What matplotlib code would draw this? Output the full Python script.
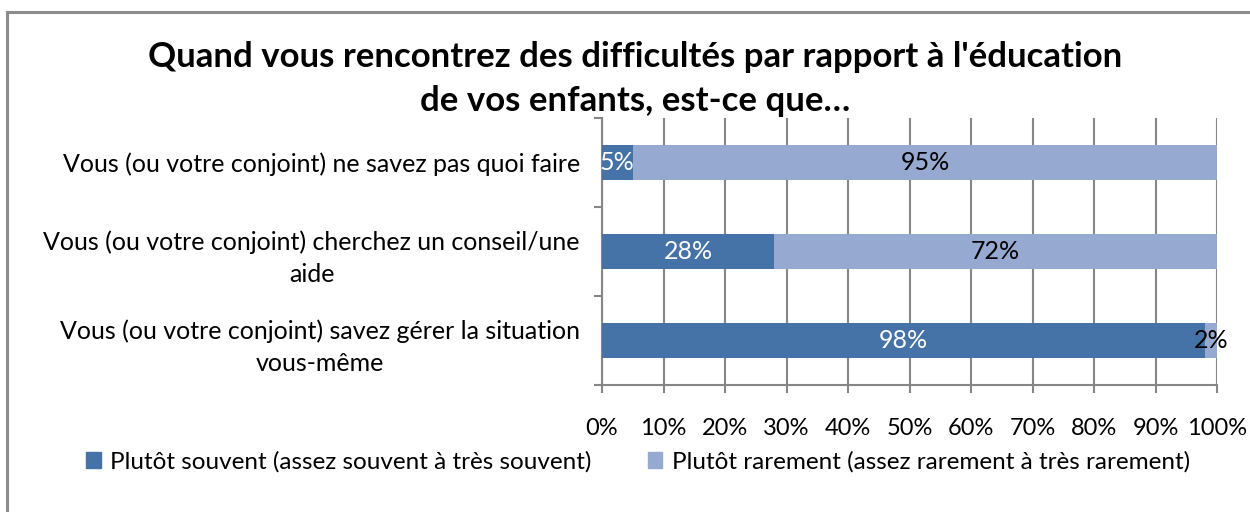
import matplotlib
matplotlib.use("Agg")
import matplotlib.pyplot as plt
from matplotlib.patches import Rectangle
from matplotlib.lines import Line2D

plt.rcParams['font.family'] = ['Lato', 'DejaVu Sans']

categories = [
    "Vous (ou votre conjoint) ne savez pas quoi faire",
    "Vous (ou votre conjoint) cherchez un conseil/une\naide",
    "Vous (ou votre conjoint) savez gérer la situation\nvous-même",
]
souvent = [5, 28, 98]
rarement = [95, 72, 2]
series_names = ["Plutôt souvent (assez souvent à très souvent)",
                "Plutôt rarement (assez rarement à très rarement)"]
title = "Quand vous rencontrez des difficultés par rapport à l'éducation\nde vos enfants, est-ce que…"
xticks = [0, 10, 20, 30, 40, 50, 60, 70, 80, 90, 100]

dark = "#4572A7"
light = "#95A9D1"
grid = "#868686"

fig = plt.figure(figsize=(12.5, 5.12), dpi=100)
# border (top & left visible)
fig.add_artist(Line2D([0.0056, 0.0056], [0, 1 - 11.5/512], color="#8c8c8c", lw=2.2, transform=fig.transFigure))
fig.add_artist(Line2D([0.0056, 1.01], [1 - 11.5/512, 1 - 11.5/512], color="#8c8c8c", lw=2.2, transform=fig.transFigure))

ax = fig.add_axes([602/1250, 1 - 385/512, (1217-602)/1250, (385-118)/512])
ypos = [2, 1, 0]
h = 0.40
ax.barh(ypos, souvent, height=h, color=dark, zorder=3)
ax.barh(ypos, rarement, left=souvent, height=h, color=light, zorder=3)

fs_lbl = 18
fs_tick = 17
for y, s, r in zip(ypos, souvent, rarement):
    ax.text(s/2, y, f"{s}%", ha="center", va="center", color="white", fontsize=fs_lbl, zorder=4)
    ax.text(s + r/2, y, f"{r}%", ha="center", va="center", color="black", fontsize=fs_lbl, zorder=4)

ax.set_xlim(0, 100)
ax.set_ylim(-0.5, 2.5)
ax.set_xticks(xticks)
ax.set_xticklabels([f"{t}%" for t in xticks], fontsize=fs_tick)
ax.set_yticks(ypos)
ax.set_yticklabels(categories, fontsize=fs_lbl, multialignment="center", linespacing=1.5)
ax.set_yticks([-0.5, 0.5, 1.5, 2.5], minor=True)
ax.tick_params(axis="y", which="major", length=0, pad=16)
ax.tick_params(axis="y", which="minor", length=6, width=1.5, color=grid, direction="out")
ax.tick_params(axis="x", length=6, width=1.5, color=grid, direction="out", pad=18)
ax.grid(axis="x", color=grid, lw=1.5, zorder=0)
for sp in ["top", "right"]:
    ax.spines[sp].set_visible(False)
for sp in ["left", "bottom"]:
    ax.spines[sp].set_color(grid)
    ax.spines[sp].set_linewidth(1.5)
ax.set_axisbelow(True)

fig.text(635/1250, 1 - 79/512, title, ha="center", va="center", fontsize=25, fontweight="bold", linespacing=1.45)

handles = [Rectangle((0, 0), 1, 1, color=dark), Rectangle((0, 0), 1, 1, color=light)]
fig.legend(handles, series_names, loc="center", bbox_to_anchor=(638/1250, 1 - 462/512), ncol=2,
           frameon=False, fontsize=17.5, handlelength=0.6, handleheight=0.6, handletextpad=0.4,
           columnspacing=2.3)

fig.savefig("out.png", dpi=100)
